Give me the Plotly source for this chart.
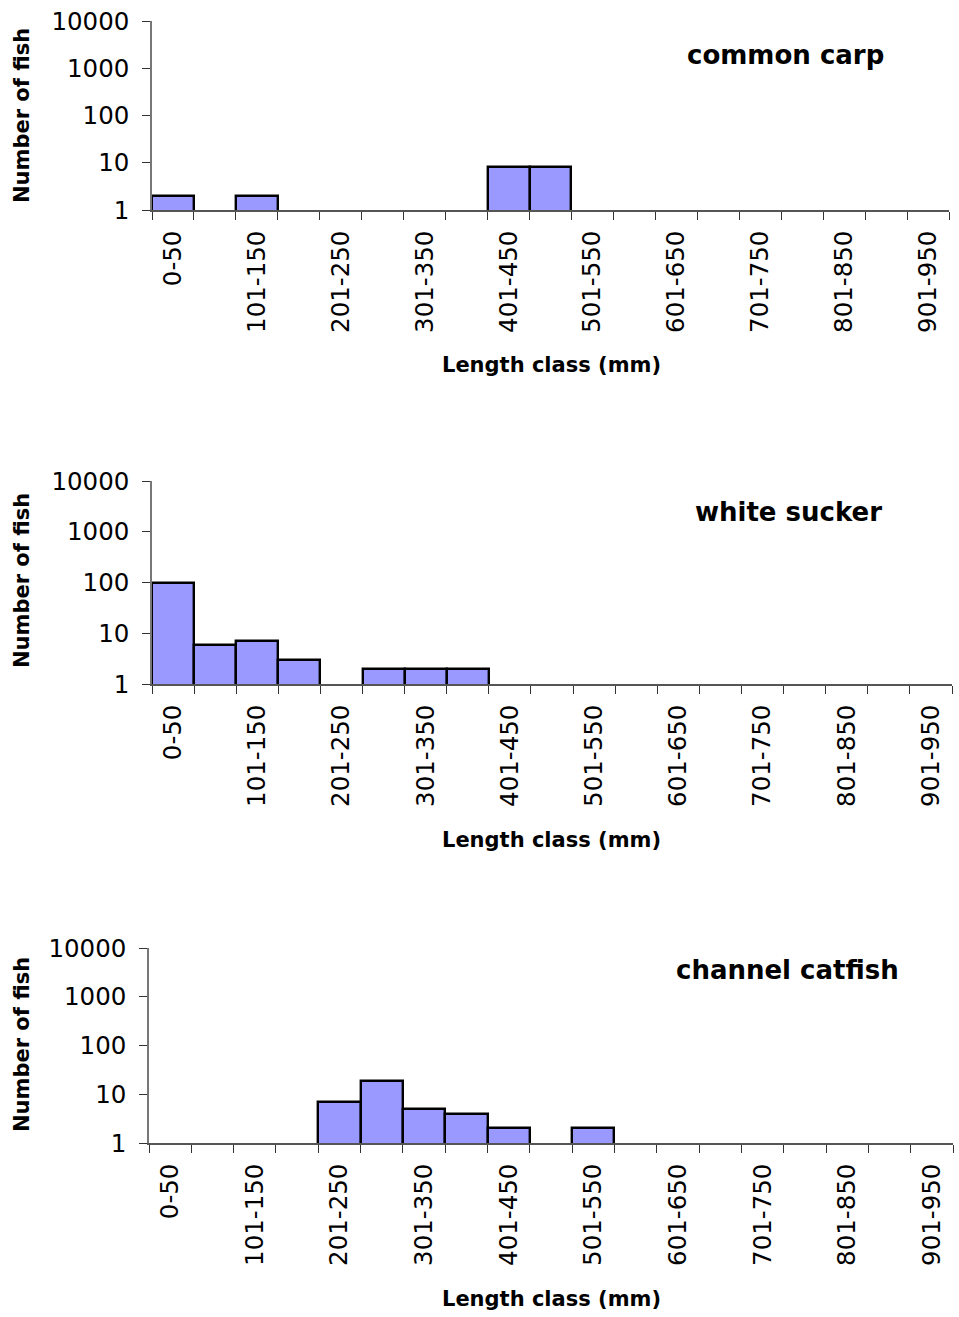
import plotly.graph_objects as go

# Length classes (mm), 50 mm bins
categories = ["0-50", "51-100", "101-150", "151-200", "201-250", "251-300",
              "301-350", "351-400", "401-450", "451-500", "501-550", "551-600",
              "601-650", "651-700", "701-750", "751-800", "801-850", "851-900",
              "901-950"]

# Number of fish per length class
common_carp = [2, 0, 2, 0, 0, 0, 0, 0, 8, 8, 0, 0, 0, 0, 0, 0, 0, 0, 0]
white_sucker = [100, 6, 7, 3, 0, 2, 2, 2, 0, 0, 0, 0, 0, 0, 0, 0, 0, 0, 0]
channel_catfish = [0, 0, 0, 0, 7, 19, 5, 4, 2, 0, 2, 0, 0, 0, 0, 0, 0, 0, 0]

species = ["common carp", "white sucker", "channel catfish"]
series = [common_carp, white_sucker, channel_catfish]

y_tickvals = [1, 10, 100, 1000, 10000]

W, H = 959, 1317
FONT = "DejaVu Sans"

# Panel geometry in pixels: (left, right, top, bottom)
panels = [(152, 949, 21, 210), (152, 952, 481, 684), (149, 953, 948, 1143)]
title_pos = [(785, 55), (788, 512), (787, 970)]
xtitle_y = [365, 840, 1299]
ytitle_y = [116, 581, 1045]

idx = list(range(len(categories)))
label_idx = idx[::2]

fig = go.Figure()
layout = dict(
    width=W, height=H,
    margin=dict(l=0, r=0, t=0, b=0, autoexpand=False),
    paper_bgcolor="white", plot_bgcolor="white",
    showlegend=False,
    bargap=0,
    annotations=[],
)

for k, (name, vals) in enumerate(zip(species, series)):
    sfx = "" if k == 0 else str(k + 1)
    left, right, top, bottom = panels[k]
    fig.add_trace(go.Bar(
        x=idx,
        y=[v if v > 0 else None for v in vals],
        width=1,
        marker=dict(color="#9999FF", line=dict(color="black", width=2.4)),
        xaxis="x" + sfx, yaxis="y" + sfx,
        name=name,
    ))
    layout["xaxis" + sfx] = dict(
        domain=[left / W, right / W],
        anchor="y" + sfx,
        automargin=False,
        range=[-0.5, len(categories) - 0.5],
        tickmode="array",
        tickvals=label_idx,
        ticktext=[categories[i] for i in label_idx],
        tickangle=-90,
        ticks="outside", ticklen=9, tickcolor="rgba(0,0,0,0)",
        tickfont=dict(family=FONT, size=24.5, color="black"),
        minor=dict(tickmode="array",
                   tickvals=[i - 0.5 for i in range(len(categories) + 1)],
                   ticks="outside", ticklen=8, tickcolor="#333333",
                   tickwidth=1.3, showgrid=False),
        showline=True, linecolor="#555555", linewidth=1.5,
        showgrid=False, zeroline=False, fixedrange=True,
    )
    layout["yaxis" + sfx] = dict(
        domain=[1 - bottom / H, 1 - top / H],
        anchor="x" + sfx,
        automargin=False,
        type="log",
        range=[0, 4],
        tickmode="array",
        tickvals=y_tickvals,
        ticktext=[str(v) for v in y_tickvals],
        ticks="outside", ticklen=8, tickcolor="#333333", tickwidth=1.3,
        ticklabelstandoff=8,
        tickfont=dict(family=FONT, size=24.5, color="black"),
        showline=True, linecolor="#777777", linewidth=1.5,
        showgrid=False, zeroline=False, fixedrange=True,
    )
    tx, ty = title_pos[k]
    layout["annotations"] += [
        dict(text="<b>%s</b>" % name, x=tx / W, y=1 - ty / H,
             xref="paper", yref="paper", xanchor="center", yanchor="middle",
             showarrow=False, font=dict(family=FONT, size=26, color="black")),
        dict(text="<b>Length class (mm)</b>", x=551 / W, y=1 - xtitle_y[k] / H,
             xref="paper", yref="paper", xanchor="center", yanchor="middle",
             showarrow=False, font=dict(family=FONT, size=21, color="black")),
        dict(text="<b>Number of fish</b>", x=22 / W, y=1 - ytitle_y[k] / H,
             xref="paper", yref="paper", xanchor="center", yanchor="middle",
             textangle=-90, showarrow=False,
             font=dict(family=FONT, size=21, color="black")),
    ]

fig.update_layout(**layout)
fig.write_html("out.html")
